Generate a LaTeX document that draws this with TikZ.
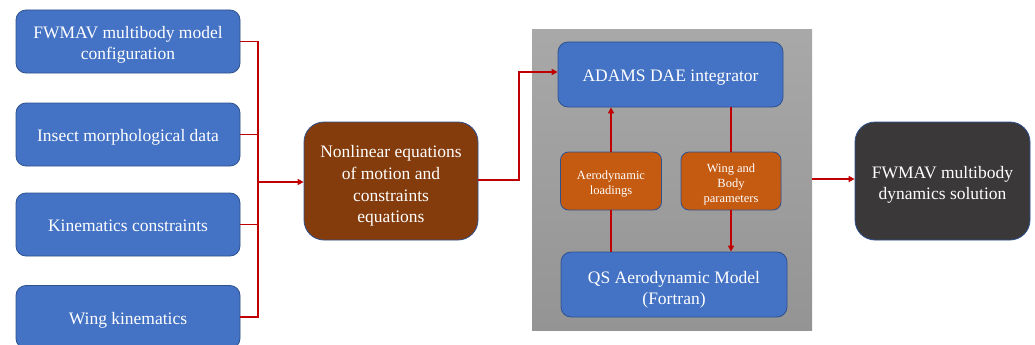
\documentclass[tikz,border=0pt]{standalone}
\usepackage{fontspec}
\setmainfont{Liberation Serif}
\usetikzlibrary{arrows.meta}
\definecolor{blueF}{HTML}{4472C4}
\definecolor{blueD}{HTML}{2F528F}
\definecolor{brownF}{HTML}{843C0C}
\definecolor{orangeF}{HTML}{C55A11}
\definecolor{darkF}{HTML}{3A3838}
\definecolor{redL}{HTML}{C00000}
\newcommand\mylines[2][4pt]{\raisebox{-#1}[\height][\depth]{\begin{tabular}{@{}c@{}}#2\end{tabular}}}
\tikzset{
  box/.style={draw=blueD, line width=0.8pt, rounded corners=10pt, inner sep=0pt, text=white, align=center, font=\fontsize{17.5}{21}\selectfont},
  bluebox/.style={box, fill=blueF},
  smallbox/.style={box, fill=orangeF, draw=blueD, rounded corners=8pt, font=\fontsize{12.5}{15}\selectfont},
  conn/.style={draw=redL, line width=1.8pt},
  arr/.style={conn, -{Triangle[length=6pt,width=6pt]}},
}
\begin{document}
\begin{tikzpicture}[x=1pt,y=-1pt]
\clip (0,0) rectangle (1035,345);
\fill[white] (0,0) rectangle (1035,345);
% gray panel
\shade[top color=black!34, bottom color=black!42] (532,30) rectangle (812,330);
\coordinate (panelR) at (812,179);
% left boxes
\node[bluebox, minimum width=224pt, minimum height=63pt] (b1) at (128,41.5) {\mylines[3pt]{FWMAV multibody model\\configuration}};
\node[bluebox, minimum width=224pt, minimum height=63pt] (b2) at (128,134.5) {\mylines[3pt]{Insect morphological data}};
\node[bluebox, minimum width=224pt, minimum height=63pt] (b3) at (128,224.5) {\mylines[3pt]{Kinematics constraints}};
\node[bluebox, minimum width=224pt, minimum height=63pt] (b4) at (128,317) {\mylines[3pt]{Wing kinematics}};
% nonlinear
\node[box, fill=brownF, rounded corners=20pt, minimum width=174pt, minimum height=118pt, font=\fontsize{17.5}{21.7}\selectfont] (nl) at (391,181) {\mylines[5pt]{Nonlinear equations\\of motion and\\constraints\\equations}};
% panel boxes
\node[bluebox, minimum width=225pt, minimum height=65pt] (adams) at (670.5,74.5) {\mylines[3pt]{ADAMS DAE integrator}};
\node[smallbox, minimum width=101pt, minimum height=58pt] (aero) at (611,181) {\mylines[3pt]{Aerodynamic\\loadings}};
\node[smallbox, minimum width=100pt, minimum height=58pt] (wing) at (731,181) {\mylines[3pt]{Wing and\\Body\\parameters}};
\node[bluebox, minimum width=226pt, minimum height=65pt] (qs) at (674,284.5) {\mylines[5pt]{QS Aerodynamic Model\\(Fortran)}};
% output
\node[box, fill=darkF, rounded corners=20pt, minimum width=175pt, minimum height=118pt] (out) at (942.5,181) {\mylines[4pt]{FWMAV multibody\\dynamics solution}};
% connectors
\coordinate (bus) at (258,182);
\draw[conn] (b1.east) -| (bus);
\draw[conn] (b2.east) -| (bus);
\draw[conn] (b3.east) -| (bus);
\draw[conn] (b4.east) -| (bus);
\draw[arr] (bus) -- (nl.west |- bus);
\coordinate (up) at (519,72);
\draw[arr] (nl.east |- 0,180) -| (up) -- (adams.west |- up);
\draw[arr] (aero.north) -- (aero.north |- adams.south);
\draw[conn] (qs.north -| aero.south) -- (aero.south);
\draw[conn] (adams.south -| wing.north) -- (wing.north);
\draw[arr] (wing.south) -- (wing.south |- qs.north);
\draw[arr] (panelR) -- (out.west |- panelR);
\end{tikzpicture}
\end{document}
